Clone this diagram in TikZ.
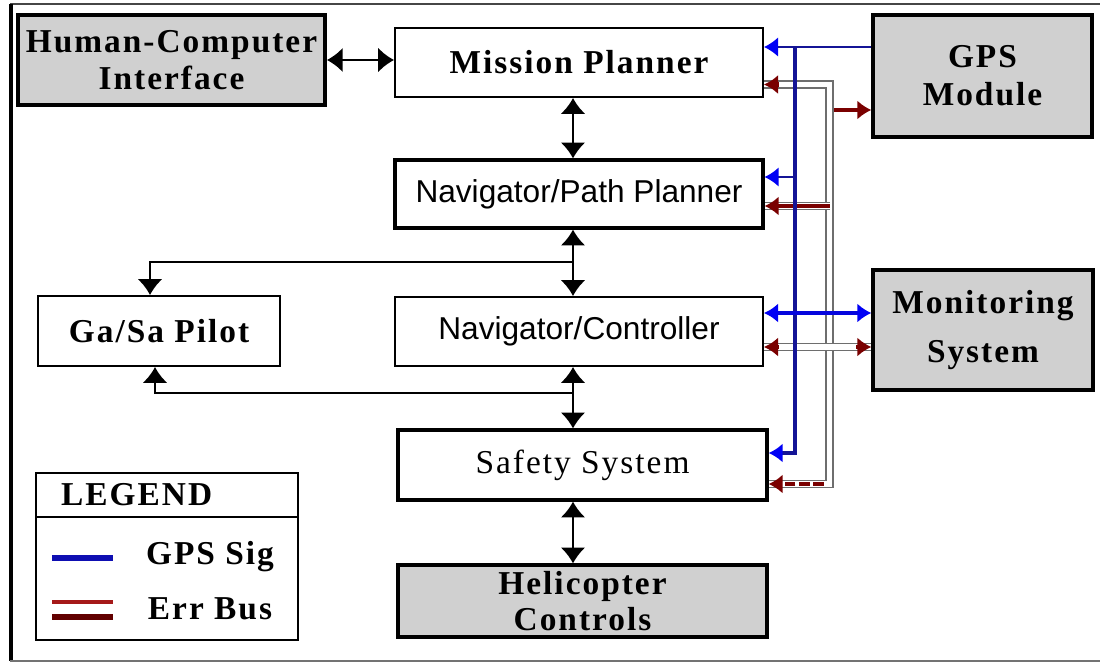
\documentclass[tikz,border=0pt]{standalone}
\usepackage{fontspec}
\setmainfont{Liberation Serif}
\newfontfamily\serifsp[LetterSpace=6]{Liberation Serif}
\newfontfamily\sanslbl{Liberation Sans}
\usetikzlibrary{arrows.meta}

\definecolor{boxgray}{RGB}{208,208,208}
\definecolor{sigblue}{RGB}{0,0,245}
\definecolor{busblue}{RGB}{20,20,150}
\definecolor{errred}{RGB}{122,0,0}
\definecolor{errlight}{RGB}{165,25,25}
\definecolor{busgray}{RGB}{110,110,110}
\definecolor{framegray}{RGB}{70,70,70}

\begin{document}
\begin{tikzpicture}[x=0.02cm,y=-0.02cm,
  sz/.style 2 args={minimum width=#1*0.02cm, minimum height=#2*0.02cm},
  box/.style={draw=black, rectangle, inner sep=0pt, align=center},
  lightbox/.style={box, line width=1.1pt},
  heavybox/.style={box, line width=1.8pt},
  shaded/.style={fill=boxgray},
  serbold/.style={font=\serifsp\bfseries\fontsize{19}{21.5}\selectfont},
  serreg/.style={font=\serifsp\fontsize{19}{21.5}\selectfont},
  sanstext/.style={font=\sanslbl\fontsize{18}{22}\selectfont},
  twoway/.style={draw=black, line width=1.1pt,
    {Latex[length=9pt,width=14pt]}-{Latex[length=9pt,width=14pt]}},
  oneway/.style={draw=black, line width=1.1pt, -{Latex[length=9pt,width=14pt]}},
  sigthin/.style={draw=busblue, line width=0.9pt,
    -{Latex[length=8pt,width=11pt,color=sigblue]}},
  sigbus/.style={draw=busblue, line width=2pt,
    -{Latex[length=8pt,width=11pt,color=sigblue]}},
  sigboth/.style={draw=sigblue!75!busblue, line width=1.8pt,
    {Latex[length=8pt,width=11pt,color=sigblue]}-{Latex[length=8pt,width=11pt,color=sigblue]}},
  errbus/.style={draw=busgray, line width=0.8pt, double=white, double distance=3.4pt},
  errtip/.style={draw=errred, line width=2.4pt,
    -{Latex[length=8pt,width=11pt,color=errred]}},
]
\useasboundingbox (0,0) rectangle (1100,663);

% outer frame
\draw[framegray, line width=1.7pt] (10,4) -- (1100,4);
\draw[black, line width=2.3pt] (11,4) -- (11,661);
\draw[black!55, line width=1.2pt] (10,661) -- (1100,661);

% blocks
\node[heavybox, shaded, serbold, sz={307}{90}, line width=2.2pt] (hci) at (171.5,60)
  {Human-Computer\\Interface};
\node[lightbox, serbold, sz={368}{69}] (mp) at (579,62.5) {Mission Planner};
\node[heavybox, sanstext, sz={368}{68}] (npp) at (579,194) {Navigator/Path Planner};
\node[lightbox, sanstext, sz={368}{69}] (nc) at (579,331.5) {Navigator/Controller};
\node[heavybox, serreg, sz={369}{70}] (ss) at (582.5,465) {Safety System};
\node[heavybox, shaded, serbold, sz={369}{72}] (hc) at (582.5,601)
  {Helicopter\\[-1pt]Controls};
\node[lightbox, serbold, sz={242}{70}] (gasa) at (159,331) {Ga/Sa Pilot};
\node[heavybox, shaded, serbold, sz={219}{122}] (gps) at (982.5,76)
  {GPS\\[0pt]Module};
\node[heavybox, shaded, serbold, sz={220}{120}] (mon) at (983,330)
  {Monitoring\\[6pt]System};

% control and data flow between blocks
\coordinate (col) at (573,0);
\coordinate (brUp) at (573,262);
\coordinate (brLo) at (573,393);
\draw[twoway] (hci.east) -- (hci.east -| mp.west);
\draw[twoway] (mp.south -| col) -- (npp.north -| col);
\draw[twoway] (npp.south -| col) -- (nc.north -| col);
\draw[twoway] (nc.south -| col) -- (ss.north -| col);
\draw[twoway] (ss.south -| col) -- (hc.north -| col);
\draw[oneway] (brUp) -| ([xshift=-0.18cm]gasa.north);
\draw[oneway] (brLo) -| ([xshift=-0.08cm]gasa.south);

% error bus (double line)
\coordinate (eTop) at (829.5,84.5);
\coordinate (eBot) at (829.5,484);
\coordinate (eNpp) at (829.5,206);
\coordinate (eNc) at (829.5,347);
\coordinate (eGps) at (834,110);
\draw[errbus] (mp.east |- eTop) -- (eTop) -- (eBot) -- (ss.east |- eBot);
\draw[errbus] (eNpp) -- (eNpp -| npp.east);
\draw[errbus] (eNc -| nc.east) -- (eNc -| mon.west);
\draw[errtip] ([xshift=0.3cm]mp.east |- eTop) -- (mp.east |- eTop);
\draw[errtip] (eNpp) -- (eNpp -| npp.east);
\draw[errtip] ([xshift=0.3cm]nc.east |- eNc) -- (nc.east |- eNc);
\draw[errtip] ([xshift=-0.3cm]mon.west |- eNc) -- (mon.west |- eNc);
\draw[errtip, dash pattern=on 6pt off 2pt] ([xshift=1.1cm]ss.east |- eBot) -- (ss.east |- eBot);
\draw[errtip] (eGps) -- (eGps -| gps.west);

% GPS signal lines
\coordinate (bTop) at (795,47);
\coordinate (bBot) at (795,453);
\coordinate (bNpp) at (795,177);
\coordinate (bNc) at (795,313);
\draw[sigthin] (gps.west |- bTop) -- (mp.east |- bTop);
\draw[sigbus] (bTop) -- (bBot) -- (ss.east |- bBot);
\draw[sigthin] (bNpp) -- (bNpp -| npp.east);
\draw[sigboth] (bNc -| nc.east) -- (bNc -| mon.west);

% legend
\node[lightbox, sz={262}{167}, line width=0.9pt] (legend) at (167,556.5) {};
\coordinate (lgDiv) at (167,517);
\draw[black, line width=0.9pt] (lgDiv -| legend.west) -- (lgDiv -| legend.east);
\node[serbold, anchor=west] (lgTitle) at (55,495) {LEGEND};
\draw[busblue!70!sigblue, line width=3.2pt] (52,558) -- (113,558);
\draw[errlight, line width=2pt] (52,602) -- (113,602);
\draw[errred!80!black, line width=3pt] (52,617) -- (113,617);
\node[serbold] (lgSig) at (210,557) {GPS Sig};
\node[serbold] (lgErr) at (210,609) {Err Bus};
\end{tikzpicture}
\end{document}
